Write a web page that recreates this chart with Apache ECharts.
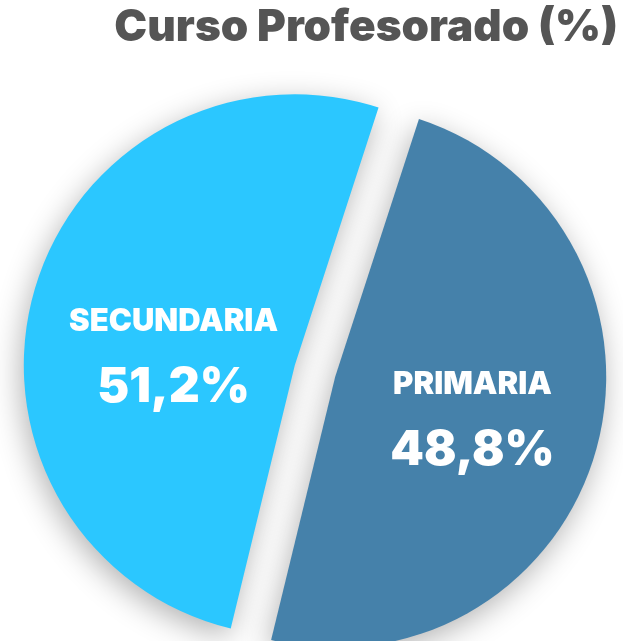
<!DOCTYPE html>
<html>
<head>
<meta charset="utf-8">
<script src="https://cdn.jsdelivr.net/npm/echarts@6/dist/echarts.min.js"></script>
<style>
html,body{margin:0;padding:0;background:#fff;}
#c{width:623px;height:641px;}
</style>
</head>
<body>
<div id="c"></div>
<script>
const titleText = 'Curso Profesorado (%)';
const categories = ['PRIMARIA', 'SECUNDARIA'];
const values = [48.8, 51.2];
const colors = ['#4581AA', '#2BC7FF'];

const chart = echarts.init(document.getElementById('c'));
const fontFam = 'Inter, "Open Sans", sans-serif';
chart.setOption({
  animation: false,
  backgroundColor: '#ffffff',
  title: {
    text: titleText,
    right: 0,
    top: 1,
    textStyle: { fontFamily: fontFam, fontWeight: 900, fontSize: 44, color: '#555555' }
  },
  series: [{
    type: 'pie',
    center: [315, 371],
    radius: 271,
    startAngle: 72,
    selectedMode: 'multiple',
    selectedOffset: 21,
    itemStyle: {
      shadowBlur: 30,
      shadowColor: 'rgba(0,0,0,0.3)',
      shadowOffsetX: -3,
      shadowOffsetY: 8
    },
    select: { itemStyle: { shadowBlur: 30, shadowColor: 'rgba(0,0,0,0.3)' } },
    emphasis: { disabled: true },
    label: {
      show: true,
      position: 'inside',
      formatter: p => '{n|' + p.name + '}\n{v|' + String(p.value).replace('.', ',') + '%}',
      rich: {
        n: { fontFamily: fontFam, fontWeight: 900, fontSize: 31, color: '#ffffff', lineHeight: 60 },
        v: { fontFamily: fontFam, fontWeight: 900, fontSize: 48, color: '#ffffff', lineHeight: 72 }
      }
    },
    labelLayout: p => (p.dataIndex === 1 ? { dx: 12, dy: 30 } : { dx: 4, dy: 6 }),
    labelLine: { show: false },
    data: categories.map((c, i) => ({
      name: c,
      value: values[i],
      selected: true,
      itemStyle: { color: colors[i] },
      select: { itemStyle: { color: colors[i] } }
    }))
  }]
});
</script>
</body>
</html>
